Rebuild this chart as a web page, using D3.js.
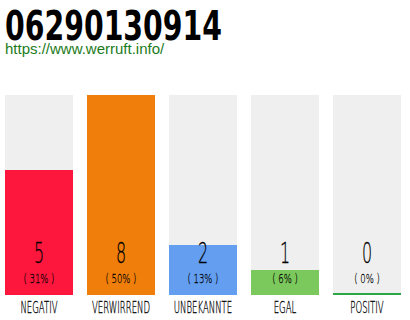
<!DOCTYPE html>
<html lang="de">
<head>
<meta charset="UTF-8">
<title>06290130914</title>
<script src="https://d3js.org/d3.v7.min.js"></script>
<style>
    body { margin: 0; background: #fff; }
    .title { font-family: "DejaVu Sans", sans-serif; font-weight: bold; font-size: 40px; fill: #000; }
    .url { font-family: "Liberation Sans", Arial, sans-serif; font-size: 15px; fill: #1b7b1b; }
    .val { font-family: "DejaVu Sans", sans-serif; font-weight: 200; font-size: 29px; fill: #000; stroke: #000; stroke-width: 0.3px; }
    .pct { font-family: "DejaVu Sans", sans-serif; font-weight: 200; font-size: 12.5px; fill: #000; stroke: #000; stroke-width: 0.25px; }
    .cat { font-family: "DejaVu Sans", sans-serif; font-weight: 200; font-size: 15px; fill: #000; stroke: #000; stroke-width: 0.3px; }
</style>
</head>
<body>
<svg id="chart"></svg>
<script>
    const categories = ["NEGATIV", "VERWIRREND", "UNBEKANNTE", "EGAL", "POSITIV"];
    const counts = [5, 8, 2, 1, 0];
    const percents = ["31%", "50%", "13%", "6%", "0%"];
    const colors = ["#fe173d", "#f07e0b", "#639ef0", "#7bc95c", "#2aa845"];

    const width = 410, height = 320;
    const svg = d3.select("#chart").attr("width", width).attr("height", height);

    svg.append("text").attr("class", "title").attr("x", 5).attr("y", 40)
        .attr("textLength", 217).attr("lengthAdjust", "spacingAndGlyphs")
        .text("06290130914");
    svg.append("text").attr("class", "url").attr("x", 5).attr("y", 54).text("https://www.werruft.info/");

    const x = d3.scaleBand().domain(categories).range([5, 401]).paddingInner(14 / 82).paddingOuter(0);
    const y = d3.scaleLinear().domain([0, d3.max(counts)]).range([295, 95]);

    const g = svg.append("g").selectAll("g").data(categories).enter().append("g");

    g.append("rect")
        .attr("x", d => x(d)).attr("y", y(d3.max(counts)))
        .attr("width", x.bandwidth()).attr("height", y(0) - y(d3.max(counts)))
        .attr("fill", "#efefef");

    g.append("rect")
        .attr("x", d => x(d))
        .attr("y", (d, i) => counts[i] === 0 ? y(0) - 2 : y(counts[i]))
        .attr("width", x.bandwidth())
        .attr("height", (d, i) => counts[i] === 0 ? 2 : y(0) - y(counts[i]))
        .attr("fill", (d, i) => colors[i]);

    const cx = d => x(d) + x.bandwidth() / 2;

    g.append("text").attr("class", "val")
        .attr("transform", d => `translate(${cx(d)},263) scale(0.55,1)`)
        .attr("text-anchor", "middle").text((d, i) => counts[i]);

    g.append("text").attr("class", "pct")
        .attr("transform", d => `translate(${cx(d)},283) scale(0.68,1)`)
        .attr("text-anchor", "middle").text((d, i) => "( " + percents[i] + " )");

    g.append("text").attr("class", "cat")
        .attr("transform", d => `translate(${cx(d)},313) scale(0.57,1)`)
        .attr("text-anchor", "middle").text(d => d);
</script>
</body>
</html>
